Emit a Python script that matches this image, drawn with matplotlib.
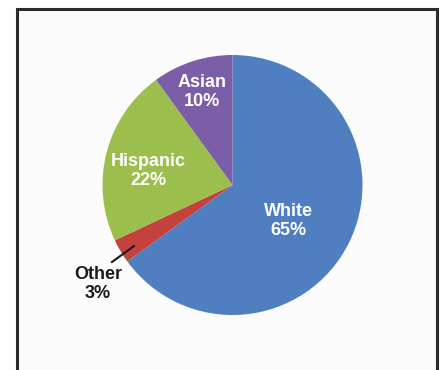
import matplotlib
matplotlib.use("Agg")
import matplotlib.pyplot as plt
from matplotlib.patches import Rectangle

# Share of enrollment by group
categories = ["White", "Other", "Hispanic", "Asian"]
shares = [65, 3, 22, 10]
colors = ["#4F7FC0", "#C3423E", "#9BBE4C", "#7B5EA7"]

W, H = 443, 370
fig = plt.figure(figsize=(W / 100, H / 100), dpi=100)
fig.patch.set_facecolor("white")
ax = fig.add_axes([0, 0, 1, 1])

# Framed panel
ax.add_patch(Rectangle((17, -5), 420, H - 9 + 5, facecolor="#FBFBFB",
                       edgecolor="#2B2B2B", linewidth=2.2, zorder=0))

cx, cy, r = 232.5, H - 185, 130
ax.pie(shares, colors=colors, startangle=90, counterclock=False,
       center=(cx, cy), radius=r, frame=True,
       wedgeprops=dict(linewidth=0))
ax.set_xlim(0, W)
ax.set_ylim(0, H)
ax.set_aspect("equal")
ax.axis("off")

font = ["Liberation Sans", "DejaVu Sans"]
label_pos = {"White": (288, 221), "Other": (98, 284),
             "Hispanic": (148, 171), "Asian": (202, 92)}
for name, val in zip(categories, shares):
    x, y = label_pos[name]
    col = "#1A1A1A" if name == "Other" else "white"
    ax.text(x, H - y, f"{name}\n{val}%", ha="center", va="center",
            fontsize=13, fontweight="bold", color=col, family=font,
            linespacing=1.12, zorder=5)

# Leader line for the small slice
ax.plot([112, 134], [H - 262, H - 246], color="#1A1A1A", linewidth=1.5,
        zorder=5)

fig.savefig("out.png", dpi=100)
